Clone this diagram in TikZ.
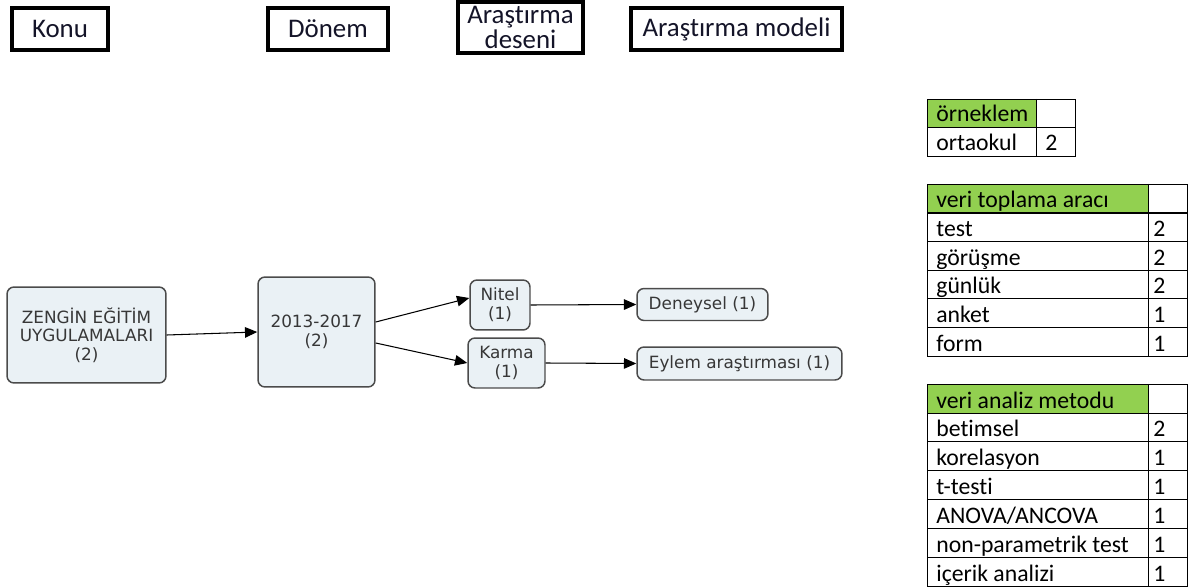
\documentclass[tikz,border=0pt]{standalone}
\usepackage{fontspec}
\setmainfont{Carlito}[Ligatures=CommonOff]
\newfontfamily\flowfont{DejaVu Sans}
\usetikzlibrary{arrows.meta}
\definecolor{boxfill}{RGB}{234,241,245}
\definecolor{boxline}{RGB}{75,75,75}
\definecolor{flowtext}{RGB}{55,55,55}
\definecolor{headgreen}{RGB}{146,208,80}
\definecolor{headtext}{RGB}{20,20,40}

\begin{document}
\begin{tikzpicture}[x=0.02cm, y=-0.02cm,
    headbox/.style={draw=black, line width=2.3pt, inner sep=0pt, text=headtext, align=center, font=\fontsize{15.3}{14.5}\selectfont},
    flowbox/.style={draw=boxline, fill=boxfill, line width=0.85pt, rounded corners=4pt, inner sep=0pt, text=flowtext, align=center, font=\flowfont\fontsize{9.6}{10.6}\selectfont},
    link/.style={-{Triangle[length=7pt,width=6pt]}, line width=0.6pt},
    celltext/.style={anchor=base west, inner sep=0pt, font=\fontsize{13.5}{13.5}\selectfont}]

    \useasboundingbox (0,0) rectangle (1194,588);

    % Column headings
    \node[headbox, minimum width=1.92cm, minimum height=0.84cm] (konu) at (60,29) {Konu};
    \node[headbox, minimum width=2.4cm, minimum height=0.84cm] (donemh) at (328,29) {Dönem};
    \node[headbox, minimum width=2.5cm, minimum height=1.02cm] (desen) at (520.5,27.5) {Araştırma\\deseni};
    \node[headbox, minimum width=4.22cm, minimum height=0.84cm] (model) at (736.5,29) {Araştırma modeli};

    % Flow
    \node[flowbox, minimum width=3.18cm, minimum height=1.92cm] (zengin) at (86.5,335) {ZENGİN EĞİTİM\\UYGULAMALARI\\(2)};
    \node[flowbox, minimum width=2.34cm, minimum height=2.2cm] (donem) at (316.5,332) {2013-2017\\(2)};
    \node[flowbox, minimum width=1.2cm, minimum height=1.0cm] (nitel) at (500,305) {Nitel\\(1)};
    \node[flowbox, minimum width=1.54cm, minimum height=1.0cm] (karma) at (506.5,363) {Karma\\(1)};
    \node[flowbox, minimum width=2.62cm, minimum height=0.64cm] (deneysel) at (702.5,304.5) {Deneysel (1)};
    \node[flowbox, minimum width=4.1cm, minimum height=0.66cm] (eylem) at (739.5,363.5) {Eylem araştırması (1)};

    \draw[link] (zengin.east) -- (donem.west);
    \draw[link] ([yshift=0.2cm]donem.east) -- ([yshift=0.14cm]nitel.west);
    \draw[link] ([yshift=-0.22cm]donem.east) -- (karma.west);
    \draw[link] (nitel.east) -- (deneysel.west);
    \draw[link] (karma.east) -- (eylem.west);

    % Sample table
    \fill[headgreen] (927,99) rectangle (1036,127);
    \draw (927,99) rectangle (1075,156);
    \draw (927,127) -- (1075,127);
    \draw (1036,99) -- (1036,156);
    \node[celltext] (orneklem) at (936,122) {örneklem};
    \node[celltext] (ortaokul) at (936,151) {ortaokul};
    \node[celltext] (ortaokuln) at (1045,151) {2};

    % Data collection table
    \fill[headgreen] (927,184) rectangle (1148,213);
    \draw (927,184) rectangle (1187,213);
    \draw (1148,184) -- (1148,213);
    \node[celltext] (arac) at (936,208) {veri toplama aracı};
    \foreach \lab/\n [count=\i] in {test/2, görüşme/2, günlük/2, anket/1, form/1} {
        \draw (927,{184+28.7*\i}) rectangle (1187,{212.7+28.7*\i});
        \draw (1148,{184+28.7*\i}) -- (1148,{212.7+28.7*\i});
        \node[celltext] (arac\i) at (936,{207.7+28.7*\i}) {\lab};
        \node[celltext] (aracn\i) at (1153,{207.7+28.7*\i}) {\n};
    }

    % Analysis table
    \fill[headgreen] (927,384) rectangle (1148,413);
    \draw (927,384) rectangle (1187,413);
    \draw (1148,384) -- (1148,413);
    \node[celltext] (metod) at (936,408) {veri analiz metodu};
    \foreach \lab/\n [count=\i] in {betimsel/2, korelasyon/1, t-testi/1, {ANOVA/ANCOVA}/1, non-parametrik test/1, içerik analizi/1} {
        \draw (927,{384+28.9*\i}) rectangle (1187,{412.9+28.9*\i});
        \draw (1148,{384+28.9*\i}) -- (1148,{412.9+28.9*\i});
        \node[celltext] (metod\i) at (936,{407.9+28.9*\i}) {\lab};
        \node[celltext] (metodn\i) at (1153,{407.9+28.9*\i}) {\n};
    }
\end{tikzpicture}
\end{document}
